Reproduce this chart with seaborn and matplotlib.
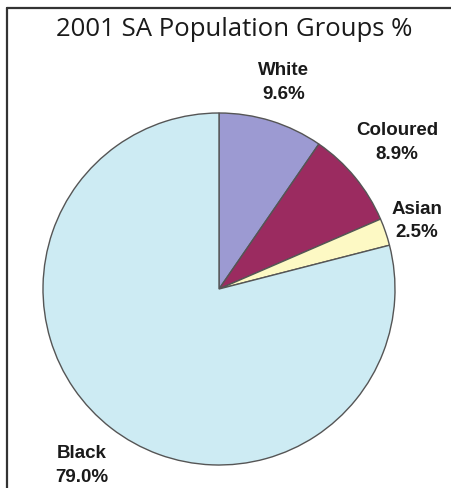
import matplotlib
matplotlib.use("Agg")
import numpy as np
import matplotlib.pyplot as plt
import seaborn as sns
from matplotlib.lines import Line2D

# data
groups = ["White", "Coloured", "Asian", "Black"]
shares = [9.6, 8.9, 2.5, 79.0]
slice_colors = ["#9c9ad2", "#9b2b60", "#fdf9c4", "#cdebf3"]

sns.set_theme(style="white")
plt.rcParams["font.family"] = ["Liberation Sans", "DejaVu Sans"]

W, H = 452, 488
cx, cy, r = 219, H - 289, 176

fig = plt.figure(figsize=(W / 100, H / 100), dpi=100)
fig.patch.set_facecolor("white")
fig.patch.set_edgecolor("none")
fig.patch.set_linewidth(0)
ax = fig.add_axes([0, 0, 1, 1])
ax.patch.set_visible(False)

labels = [f"{g}\n{v:.1f}%" for g, v in zip(groups, shares)]
wedges, texts = ax.pie(
    shares, labels=labels, colors=slice_colors,
    startangle=90, counterclock=False,
    center=(cx, cy), radius=r, labeldistance=1.25,
    wedgeprops=dict(edgecolor="#555555", linewidth=1.0),
    textprops=dict(fontsize=13.5, fontweight="bold", color="#1a1a1a"),
)
ax.set_xlim(0, W)
ax.set_ylim(0, H)
ax.set_axis_off()

# per-label radial distance, following the original placement
dist = [1.23, 1.31, 1.19, 1.27]
for w, t, d in zip(wedges, texts, dist):
    ang = np.deg2rad((w.theta1 + w.theta2) / 2)
    t.set_position((cx + d * r * np.cos(ang), cy + d * r * np.sin(ang)))
    t.set_ha("center")
    t.set_va("center")
    t.set_linespacing(1.5)

fig.text(234 / W, 1 - 30 / H, "2001 SA Population Groups %",
         ha="center", va="center", fontsize=18.5, color="#1a1a1a",
         family=["Open Sans", "DejaVu Sans"])

# frame lines at top and left
fig.add_artist(Line2D([7 / W, 1], [1 - 8 / H, 1 - 8 / H], color="#333333", lw=1.6))
fig.add_artist(Line2D([7 / W, 7 / W], [0, 1 - 8 / H], color="#333333", lw=1.6))

fig.savefig("out.png", dpi=100)
